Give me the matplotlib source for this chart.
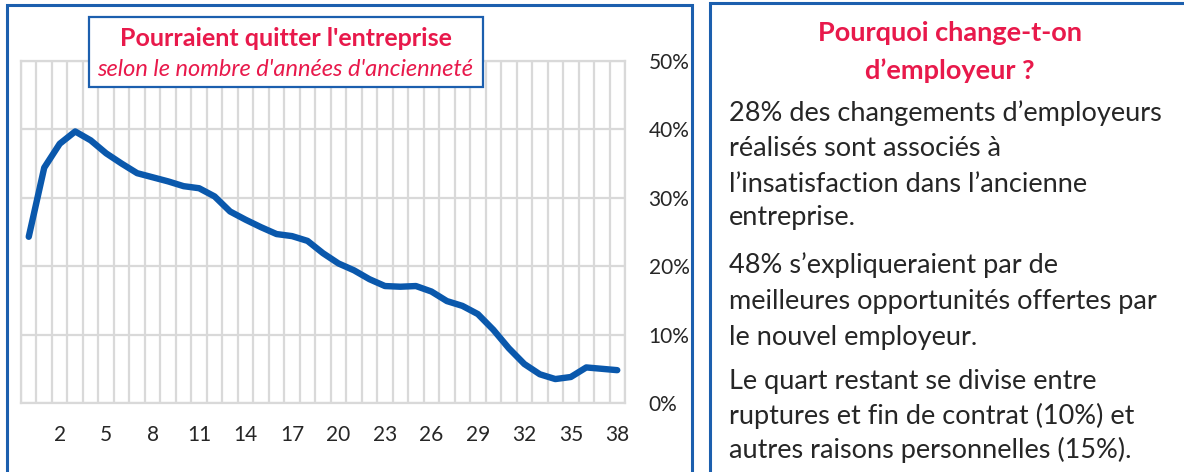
import matplotlib.pyplot as plt
from matplotlib.patches import Rectangle
from matplotlib.ticker import FuncFormatter

# data: share who could leave the company, by years of seniority
annees = list(range(0, 39))
pourcentages = [24.3, 34.4, 37.9, 39.7, 38.4, 36.5, 35.0, 33.6, 33.0, 32.4,
                31.7, 31.4, 30.2, 28.0, 26.8, 25.7, 24.7, 24.4, 23.7, 21.9,
                20.4, 19.4, 18.1, 17.1, 17.0, 17.1, 16.3, 14.9, 14.2, 13.0,
                10.7, 8.0, 5.7, 4.2, 3.5, 3.8, 5.2, 5.0, 4.8]
xticks = list(range(2, 39, 3))
yticks = [0, 10, 20, 30, 40, 50]

titre = "Pourraient quitter l'entreprise"
sous_titre = "selon le nombre d'années d'ancienneté"
titre_droite = ["Pourquoi change-t-on", "d’employeur ?"]
texte_droite = [
    "28% des changements d’employeurs",
    "réalisés sont associés à",
    "l’insatisfaction dans l’ancienne",
    "entreprise.",
    "48% s’expliqueraient par de",
    "meilleures opportunités offertes par",
    "le nouvel employeur.",
    "Le quart restant se divise entre",
    "ruptures et fin de contrat (10%) et",
    "autres raisons personnelles (15%).",
]

W, H = 1184, 472
BLEU = "#1C5FAE"
ROUGE = "#E8194B"
GRIS = "#D9D9D9"
TEXTE = "#262626"
plt.rcParams['font.family'] = ['Lato', 'DejaVu Sans']

fig = plt.figure(figsize=(W / 100, H / 100), dpi=100)
fig.patch.set_facecolor("white")

def fx(px):
    return px / W

def fy(py):
    return 1 - py / H

# panel borders
fig.add_artist(Rectangle((fx(7), fy(480)), fx(692) - fx(7), fy(5) - fy(480),
                         transform=fig.transFigure, fill=False, edgecolor=BLEU, lw=2.2))
fig.add_artist(Rectangle((fx(710), fy(480)), fx(1192) - fx(710), fy(3) - fy(480),
                         transform=fig.transFigure, fill=False, edgecolor=BLEU, lw=2.2))

#line chart
ax = fig.add_axes([fx(21), fy(403), fx(625) - fx(21), fy(61) - fy(403)])
ax.plot(annees, pourcentages, color="#0A58AC", lw=4.6, solid_capstyle="round",
        solid_joinstyle="round", zorder=3)
ax.set_xlim(-0.5, 38.5)
ax.set_ylim(0, 50)
ax.set_xticks([i + 0.5 for i in range(-1, 39)], minor=True)
ax.set_xticks(xticks)
ax.set_yticks(yticks)
ax.yaxis.set_major_formatter(FuncFormatter(lambda v, p: f"{v:.0f}%"))
ax.grid(which="minor", axis="x", color=GRIS, lw=1.6)
ax.grid(which="major", axis="y", color=GRIS, lw=1.6)
ax.grid(which="major", axis="x", visible=False)
for s in ax.spines.values():
    s.set_color(GRIS)
    s.set_linewidth(1.6)
ax.yaxis.tick_right()
ax.tick_params(axis="both", which="both", length=0, labelsize=15, colors=TEXTE)
ax.tick_params(axis="y", pad=17)
ax.tick_params(axis="x", pad=16)

# title box
fig.add_artist(Rectangle((fx(89), fy(87)), fx(483) - fx(89), fy(17) - fy(87),
                         transform=fig.transFigure, facecolor="white", edgecolor=BLEU,
                         lw=1.6, zorder=5))
fig.text(fx(286), fy(39), titre, ha="center", va="center", fontsize=18,
         fontweight="bold", color=ROUGE, zorder=6)
fig.text(fx(285), fy(70), sous_titre, ha="center", va="center", fontsize=17,
         style="italic", color=ROUGE, zorder=6)

# right panel text
for ligne, y in zip(titre_droite, [33, 71]):
    fig.text(fx(950), fy(y), ligne, ha="center", va="center", fontsize=19.5,
             fontweight="bold", color=ROUGE)
ys = [113, 149, 185, 218, 265, 301, 337, 381, 416, 450]
for ligne, y in zip(texte_droite, ys):
    fig.text(fx(729), fy(y), ligne, ha="left", va="center", fontsize=19.5, color=TEXTE)

fig.savefig("out.png", dpi=100)
